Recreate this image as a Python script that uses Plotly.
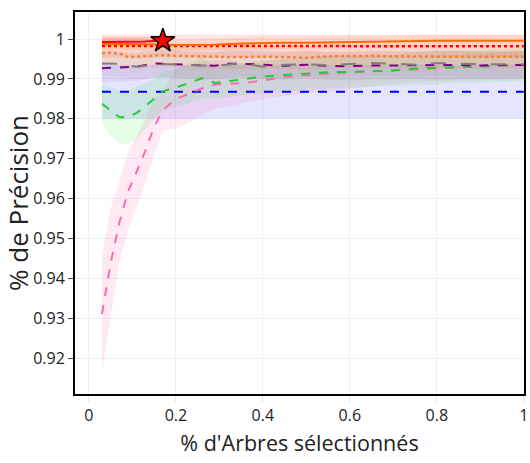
import plotly.graph_objects as go

# ---- data ----
x = [0.03, 0.05, 0.07, 0.09, 0.11, 0.13, 0.15, 0.17, 0.20, 0.23, 0.26, 0.29, 0.32, 0.35,
     0.40, 0.45, 0.50, 0.55, 0.60, 0.65, 0.70, 0.75, 0.80, 0.85, 0.90, 0.95, 1.00]

x_red_solid = [0.03, 0.05, 0.07, 0.09, 0.11, 0.13, 0.15, 0.17]
red_solid = [0.9993, 0.9993, 0.9994, 0.9994, 0.9994, 0.9994, 0.9995, 0.9995]
red_solid_sd = [0.0012, 0.0012, 0.0012, 0.0012, 0.0012, 0.0012, 0.0012, 0.0012]

orange_solid = [0.9988, 0.9988, 0.9989, 0.9988, 0.9988, 0.9987, 0.9987, 0.9986, 0.9985, 0.9985,
                0.9986, 0.9986, 0.9988, 0.9989, 0.9990, 0.9991, 0.9991, 0.9992, 0.9993, 0.9993,
                0.9994, 0.9995, 0.9996, 0.9996, 0.9996, 0.9996, 0.9996]
orange_solid_sd = [0.0015] * 27

red_dot = [0.9983, 0.9983, 0.9983, 0.9982, 0.9982, 0.9982, 0.9982, 0.9982, 0.9982, 0.9982,
           0.9982, 0.9982, 0.9982, 0.9982, 0.9982, 0.9982, 0.9982, 0.9982, 0.9982, 0.9982,
           0.9982, 0.9982, 0.9982, 0.9982, 0.9982, 0.9982, 0.9982]
red_dot_sd = [0.0029] * 27

orange_dot = [0.9965, 0.9966, 0.9964, 0.9955, 0.9956, 0.9957, 0.9958, 0.9960, 0.9958, 0.9957,
              0.9956, 0.9955, 0.9955, 0.9955, 0.9956, 0.9955, 0.9953, 0.9957, 0.9958, 0.9958,
              0.9957, 0.9956, 0.9956, 0.9956, 0.9956, 0.9956, 0.9956]
orange_dot_sd = [0.0030] * 27

gray_dash = [0.9939, 0.9939, 0.9938, 0.9934, 0.9931, 0.9933, 0.9935, 0.9937, 0.9937, 0.9935,
             0.9934, 0.9934, 0.9936, 0.9940, 0.9931, 0.9936, 0.9937, 0.9935, 0.9938, 0.9940,
             0.9938, 0.9936, 0.9940, 0.9938, 0.9937, 0.9937, 0.9937]
gray_sd = [0.0032] * 27

purple_dash = [0.9927, 0.9928, 0.9929, 0.9930, 0.9931, 0.9935, 0.9939, 0.9938, 0.9937, 0.9935,
               0.9934, 0.9933, 0.9938, 0.9938, 0.9936, 0.9933, 0.9936, 0.9933, 0.9932, 0.9934,
               0.9934, 0.9935, 0.9935, 0.9935, 0.9934, 0.9935, 0.9935]
purple_sd = [0.0035] * 27

green_dash = [0.9838, 0.9820, 0.9804, 0.9804, 0.9815, 0.9832, 0.9850, 0.9869, 0.9878, 0.9890,
              0.9902, 0.9890, 0.9894, 0.9899, 0.9906, 0.9910, 0.9914, 0.9917, 0.9918, 0.9920,
              0.9921, 0.9926, 0.9928, 0.9930, 0.9932, 0.9934, 0.9936]
green_lower = [0.9790, 0.9760, 0.9737, 0.9738, 0.9748, 0.9775, 0.9800, 0.9820, 0.9830, 0.9840,
               0.9850, 0.9850, 0.9855, 0.9860, 0.9865, 0.9870, 0.9873, 0.9876, 0.9878, 0.9880,
               0.9882, 0.9885, 0.9887, 0.9889, 0.9891, 0.9893, 0.9895]

pink_dash = [0.9311, 0.9438, 0.9540, 0.9618, 0.9668, 0.9720, 0.9780, 0.9822, 0.9850, 0.9862,
             0.9876, 0.9886, 0.9889, 0.9889, 0.9896, 0.9905, 0.9910, 0.9914, 0.9917, 0.9920,
             0.9922, 0.9924, 0.9927, 0.9929, 0.9931, 0.9933, 0.9935]
pink_lower = [0.9167, 0.9300, 0.9437, 0.9520, 0.9580, 0.9640, 0.9710, 0.9773, 0.9775, 0.9790,
              0.9810, 0.9825, 0.9831, 0.9838, 0.9850, 0.9858, 0.9865, 0.9870, 0.9875, 0.9882,
              0.9888, 0.9892, 0.9895, 0.9897, 0.9898, 0.9899, 0.9900]

blue_dash = [0.9868] * 27
blue_sd = [0.0068] * 27

star_x = [0.17]
star_y = [0.9996]

x_ticks = [0, 0.2, 0.4, 0.6, 0.8, 1]
x_tick_text = ["0", "0.2", "0.4", "0.6", "0.8", "1"]
y_ticks = [0.92, 0.93, 0.94, 0.95, 0.96, 0.97, 0.98, 0.99, 1]
y_tick_text = ["0.92", "0.93", "0.94", "0.95", "0.96", "0.97", "0.98", "0.99", "1"]

fig = go.Figure()


def band(xs, upper, lower, fill):
    fig.add_trace(go.Scatter(x=list(xs) + list(xs)[::-1], y=list(upper) + list(lower)[::-1],
                             fill="toself", fillcolor=fill, line=dict(width=0),
                             mode="lines", hoverinfo="skip", showlegend=False))


def sym(vals, sd):
    return [v + s for v, s in zip(vals, sd)], [v - s for v, s in zip(vals, sd)]


def mirror(vals, lower):
    return [2 * v - l for v, l in zip(vals, lower)]


# bands
band(x, *sym(blue_dash, blue_sd), "rgba(0,0,255,0.10)")
band(x, mirror(pink_dash, pink_lower), pink_lower, "rgba(255,105,180,0.14)")
band(x, mirror(green_dash, green_lower), green_lower, "rgba(0,230,0,0.10)")
band(x, *sym(purple_dash, purple_sd), "rgba(128,0,128,0.07)")
band(x, *sym(gray_dash, gray_sd), "rgba(128,128,128,0.09)")
band(x, *sym(orange_dot, orange_dot_sd), "rgba(255,127,14,0.12)")
band(x, *sym(red_dot, red_dot_sd), "rgba(255,0,0,0.10)")
band(x, *sym(orange_solid, orange_solid_sd), "rgba(255,100,0,0.12)")
band(x_red_solid, *sym(red_solid, red_solid_sd), "rgba(255,0,0,0.12)")

# lines
fig.add_trace(go.Scatter(x=x, y=blue_dash, mode="lines", line=dict(color="blue", width=2, dash="dash"), showlegend=False))
fig.add_trace(go.Scatter(x=x, y=pink_dash, mode="lines", line=dict(color="#ff69b4", width=2, dash="dash"), showlegend=False))
fig.add_trace(go.Scatter(x=x, y=green_dash, mode="lines", line=dict(color="#22cc33", width=2, dash="dash"), showlegend=False))
fig.add_trace(go.Scatter(x=x, y=purple_dash, mode="lines", line=dict(color="purple", width=2, dash="dash"), showlegend=False))
fig.add_trace(go.Scatter(x=x, y=gray_dash, mode="lines", line=dict(color="gray", width=2, dash="longdash"), showlegend=False))
fig.add_trace(go.Scatter(x=x, y=orange_dot, mode="lines", line=dict(color="#f58231", width=2.5, dash="dot"), showlegend=False))
fig.add_trace(go.Scatter(x=x, y=red_dot, mode="lines", line=dict(color="red", width=2.5, dash="dot"), showlegend=False))
fig.add_trace(go.Scatter(x=x, y=orange_solid, mode="lines", line=dict(color="#ff6a00", width=2), showlegend=False))
fig.add_trace(go.Scatter(x=x_red_solid, y=red_solid, mode="lines", line=dict(color="red", width=2), showlegend=False))
fig.add_trace(go.Scatter(x=star_x, y=star_y, mode="markers",
                         marker=dict(symbol="star", size=18, color="red", line=dict(color="black", width=1.5)),
                         showlegend=False))

tick_font = dict(family="Open Sans, sans-serif", size=16, color="#222")

fig.update_layout(
    width=530, height=463,
    margin=dict(l=75, r=2, t=12, b=69),
    paper_bgcolor="white", plot_bgcolor="white",
    xaxis=dict(range=[-0.032, 1.0005], tickvals=x_ticks, ticktext=x_tick_text,
               showline=True, mirror=True, linecolor="black", linewidth=2,
               showgrid=True, gridcolor="#edf0f7", gridwidth=1, zeroline=False,
               ticks="outside", ticklen=6, tickcolor="#dde3ee", tickfont=tick_font,
               ticklabeloverflow="allow",
               title=dict(text="% d'Arbres sélectionnés", standoff=11,
                          font=dict(family="Open Sans, sans-serif", size=21.5, color="#222"))),
    yaxis=dict(range=[0.911, 1.0068], tickvals=y_ticks, ticktext=y_tick_text,
               showline=True, mirror=True, linecolor="black", linewidth=2,
               showgrid=True, gridcolor="#edf0f7", gridwidth=1, zeroline=False,
               ticks="outside", ticklen=5, tickcolor="#444", tickfont=tick_font,
               title=dict(text="% de Précision", standoff=2,
                          font=dict(family="Open Sans, sans-serif", size=26, color="#222"))),
)

fig.write_html("out.html")
